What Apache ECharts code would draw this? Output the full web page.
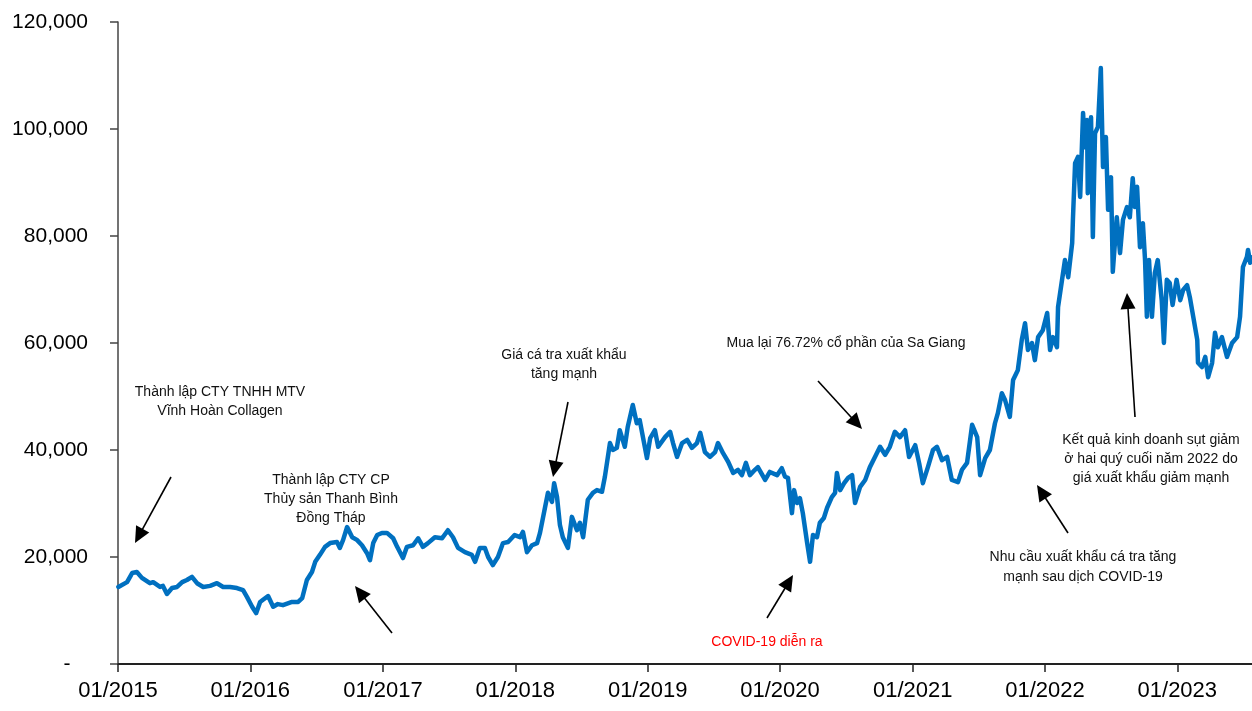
<!DOCTYPE html>
<html><head><meta charset="utf-8">
<script src="https://cdn.jsdelivr.net/npm/echarts@6/dist/echarts.min.js"></script>
<style>html,body{margin:0;padding:0;background:#fff}#c{width:1252px;height:711px}</style>
</head><body><div id="c"></div><script>
const dates = [
'2015-01-02','2015-01-26','2015-02-09','2015-02-22','2015-03-08','2015-03-30','2015-04-08','2015-04-27','2015-05-05','2015-05-16','2015-05-30','2015-06-13','2015-06-27','2015-07-10','2015-07-24','2015-08-07','2015-08-24','2015-09-12','2015-10-01','2015-10-18','2015-11-06','2015-11-25','2015-12-12','2015-12-23',
'2016-01-06','2016-01-17','2016-01-28','2016-02-05','2016-02-19','2016-03-04','2016-03-17','2016-03-31','2016-04-25','2016-05-12','2016-05-23','2016-06-05','2016-06-19','2016-06-28','2016-07-11','2016-07-25','2016-08-08','2016-08-27','2016-09-04','2016-09-13','2016-09-24','2016-10-08','2016-10-21','2016-11-04','2016-11-18','2016-11-26','2016-12-05','2016-12-16','2016-12-29',
'2017-01-12','2017-01-29','2017-02-09','2017-02-25','2017-03-08','2017-03-25','2017-04-08','2017-04-21','2017-05-05','2017-05-24','2017-06-13','2017-06-29','2017-07-13','2017-07-27','2017-08-15','2017-09-03','2017-09-12','2017-09-25','2017-10-09','2017-10-18','2017-10-31','2017-11-14','2017-11-28','2017-12-12','2017-12-30',
'2018-01-14','2018-01-22','2018-02-02','2018-02-16','2018-03-02','2018-03-10','2018-03-24','2018-04-01','2018-04-12','2018-04-18','2018-04-26','2018-05-04','2018-05-12','2018-05-26','2018-06-06','2018-06-20','2018-06-28','2018-07-07','2018-07-20','2018-08-03','2018-08-14','2018-08-28','2018-09-05','2018-09-19','2018-09-27','2018-10-08','2018-10-16','2018-10-30','2018-11-07','2018-11-21','2018-12-02','2018-12-10','2018-12-19','2018-12-30',
'2019-01-08','2019-01-21','2019-01-30','2019-02-18','2019-03-04','2019-03-12','2019-03-23','2019-04-06','2019-04-20','2019-05-03','2019-05-17','2019-05-26','2019-06-08','2019-06-22','2019-07-06','2019-07-14','2019-07-28','2019-08-11','2019-08-25','2019-09-07','2019-09-18','2019-09-29','2019-10-10','2019-10-24','2019-11-01','2019-11-21','2019-12-04','2019-12-24',
'2020-01-06','2020-01-15','2020-01-23','2020-02-03','2020-02-09','2020-02-17','2020-02-25','2020-03-04','2020-03-16','2020-03-24','2020-04-01','2020-04-12','2020-04-20','2020-05-01','2020-05-10','2020-05-23','2020-06-01','2020-06-06','2020-06-15','2020-06-26','2020-07-07','2020-07-18','2020-07-26','2020-08-09','2020-08-23','2020-09-05','2020-09-19','2020-10-03','2020-10-17','2020-10-30','2020-11-13','2020-11-27','2020-12-11','2020-12-22',
'2021-01-08','2021-01-19','2021-01-29','2021-02-12','2021-02-26','2021-03-09','2021-03-23','2021-04-06','2021-04-19','2021-05-06','2021-05-17','2021-05-31','2021-06-14','2021-06-28','2021-07-06','2021-07-20','2021-08-02','2021-08-16','2021-08-24','2021-09-04','2021-09-13','2021-09-26','2021-10-05','2021-10-18','2021-10-29','2021-11-07','2021-11-15','2021-11-26','2021-12-04','2021-12-13','2021-12-26',
'2022-01-07','2022-01-15','2022-01-23','2022-02-03','2022-02-06','2022-02-17','2022-02-25','2022-03-06','2022-03-17','2022-03-19','2022-03-25','2022-04-02','2022-04-08','2022-04-16','2022-04-21','2022-04-27','2022-04-29','2022-05-08','2022-05-13','2022-05-19','2022-05-27','2022-06-04','2022-06-10','2022-06-18','2022-06-24','2022-07-02','2022-07-07','2022-07-18','2022-07-27','2022-08-04','2022-08-15','2022-08-23','2022-08-31','2022-09-06','2022-09-12','2022-09-20','2022-09-28','2022-10-04','2022-10-09','2022-10-15','2022-10-23','2022-10-31','2022-11-08','2022-11-19','2022-11-25','2022-12-03','2022-12-11','2022-12-19','2022-12-30',
'2023-01-09','2023-01-17','2023-01-28','2023-02-05','2023-02-14','2023-02-25','2023-02-27','2023-03-10','2023-03-19','2023-03-27','2023-04-07','2023-04-15','2023-04-23','2023-05-04','2023-05-18','2023-06-01','2023-06-15','2023-06-23','2023-07-01','2023-07-12','2023-07-15','2023-07-21','2023-07-26'
];
const prices = [
14400,15300,17000,17200,16100,15100,15300,14400,14600,13100,14200,14400,15300,15700,16300,15100,14400,14600,15100,14400,14400,14200,13800,12500,
10700,9500,11600,12000,12700,10700,11200,11000,11600,11600,12300,15700,17200,19100,20400,21900,22600,22800,21700,23200,25600,23700,23200,22200,20700,19400,22600,24100,24500,
24500,23500,21900,19800,21900,22200,23500,21900,22600,23700,23500,25000,23700,21700,20900,20400,19100,21700,21700,20000,18500,20000,22600,22800,24100,
23700,24700,20900,22200,22600,24500,29300,32000,30300,33800,31200,26000,23700,21700,27500,25000,26400,23700,30700,32000,32500,32200,35000,41300,40000,40400,43700,40600,44300,48400,45000,45600,42400,38500,
42200,43700,40600,42400,43400,41300,38700,41300,41900,40400,41300,43200,39600,38700,39600,41300,39400,37800,35700,36300,35300,37600,35300,36300,36800,34400,35900,35300,
36600,35000,34800,28200,32500,30100,31000,28200,22600,19100,24100,23700,26400,27300,29200,31200,32000,35700,32500,33800,34800,35300,30100,33100,34400,36800,38700,40600,39100,40600,43400,42400,43700,38700,
40900,37500,33800,36800,40000,40600,38100,38700,34400,34000,36300,37600,44700,42400,35300,38500,40000,45000,46900,50600,49300,46200,53100,54900,60600,63700,58700,60000,56800,61100,62400,
65600,58700,61100,59200,66700,71800,75500,72300,78700,83000,93600,94800,87300,103000,96600,101700,88000,102200,79800,99200,100400,111400,92900,98500,84900,91000,73300,83500,76800,83000,85400,83500,90800,85400,89200,77900,82400,75500,64900,75500,64900,73100,75500,68000,60000,71800,71200,67100,71800,
68000,69900,70800,68400,64900,60600,56300,55500,57400,53600,56300,61900,59200,61100,57400,60000,61100,64900,74200,76100,77400,75000,76000
];
const yMin = 0, yMax = 120000, yStep = 20000;
const xStart = [2015, 0, 1], xEnd = [2023, 6, 26];

const FONT = '"Liberation Sans", Arial, sans-serif';

function arrow(x1, y1, x2, y2) {
  const dx = x2 - x1, dy = y2 - y1, L = Math.hypot(dx, dy), ux = dx / L, uy = dy / L;
  const hl = 16, hw = 7.5;
  const bx = x2 - ux * hl, by = y2 - uy * hl;
  return [
    { type: 'line', shape: { x1: x1, y1: y1, x2: bx + ux * 2, y2: by + uy * 2 }, style: { stroke: '#000', lineWidth: 1.6 } },
    { type: 'polygon', shape: { points: [[x2, y2], [bx - uy * hw, by + ux * hw], [bx + uy * hw, by - ux * hw]] }, style: { fill: '#000' } }
  ];
}
function label(text, x, y, color, lh) {
  return { type: 'text', x: x, y: y, style: { text: text, fontSize: 14, fontFamily: FONT, fill: color || '#111', align: 'center', verticalAlign: 'top', lineHeight: lh || 19 } };
}

const graphics = [].concat(
  [label('Thành lập CTY TNHH MTV\nVĩnh Hoàn Collagen', 220, 383)],
  arrow(171, 477, 135, 543),
  [label('Thành lập CTY CP\nThủy sản Thanh Bình\nĐồng Tháp', 331, 471)],
  arrow(392, 633, 355, 586),
  [label('Giá cá tra xuất khẩu\ntăng mạnh', 564, 346)],
  arrow(568, 402, 553, 477),
  [label('Mua lại 76.72% cổ phần của Sa Giang', 846, 334)],
  arrow(818, 381, 862, 429),
  [label('COVID-19 diễn ra', 767, 633, '#FF0000')],
  arrow(767, 618, 793, 575),
  [label('Kết quả kinh doanh sụt giảm\nở hai quý cuối năm 2022 do\ngiá xuất khẩu giảm mạnh', 1151, 431)],
  arrow(1135, 417, 1127, 293),
  [label('Nhu cầu xuất khẩu cá tra tăng\nmạnh sau dịch COVID-19', 1083, 547, null, 20)],
  arrow(1068, 533, 1037, 485)
);

const YEAR = 365 * 24 * 3600 * 1000;
const chart = echarts.init(document.getElementById('c'));
chart.setOption({
  animation: false,
  backgroundColor: '#fff',
  grid: { left: 118, right: 0, top: 22, bottom: 47, outerBoundsMode: 'none', containLabel: false },
  xAxis: {
    type: 'time',
    min: new Date(xStart[0], xStart[1], xStart[2]).getTime(),
    max: new Date(xEnd[0], xEnd[1], xEnd[2]).getTime(),
    minInterval: YEAR, maxInterval: YEAR,
    axisLine: { lineStyle: { color: '#222', width: 2 } },
    axisTick: { show: true, length: 8, lineStyle: { color: '#222', width: 1.5 } },
    splitLine: { show: false },
    axisLabel: {
      color: '#000', fontSize: 22, fontFamily: FONT, margin: 16,
      showMaxLabel: false,
      formatter: function (v) { const d = new Date(v); return (d.getMonth() === 0 && d.getDate() === 1) ? '01/' + d.getFullYear() : ''; }
    }
  },
  yAxis: {
    type: 'value', min: yMin, max: yMax, interval: yStep,
    axisLine: { show: true, lineStyle: { color: '#444', width: 1.5 } },
    axisTick: { show: true, length: 8, lineStyle: { color: '#444', width: 1.5 } },
    splitLine: { show: false },
    axisLabel: {
      color: '#000', fontSize: 21, fontFamily: FONT, margin: 30,
      formatter: function (v) { return v === 0 ? '-   ' : v.toLocaleString('en-US'); }
    }
  },
  series: [{
    type: 'line',
    data: dates.map(function (d, i) { return [d, prices[i]]; }),
    showSymbol: false,
    lineStyle: { color: '#0070C0', width: 4.5, join: 'round', cap: 'round' },
    itemStyle: { color: '#0070C0' }
  }],
  graphic: graphics
});
</script></body></html>
